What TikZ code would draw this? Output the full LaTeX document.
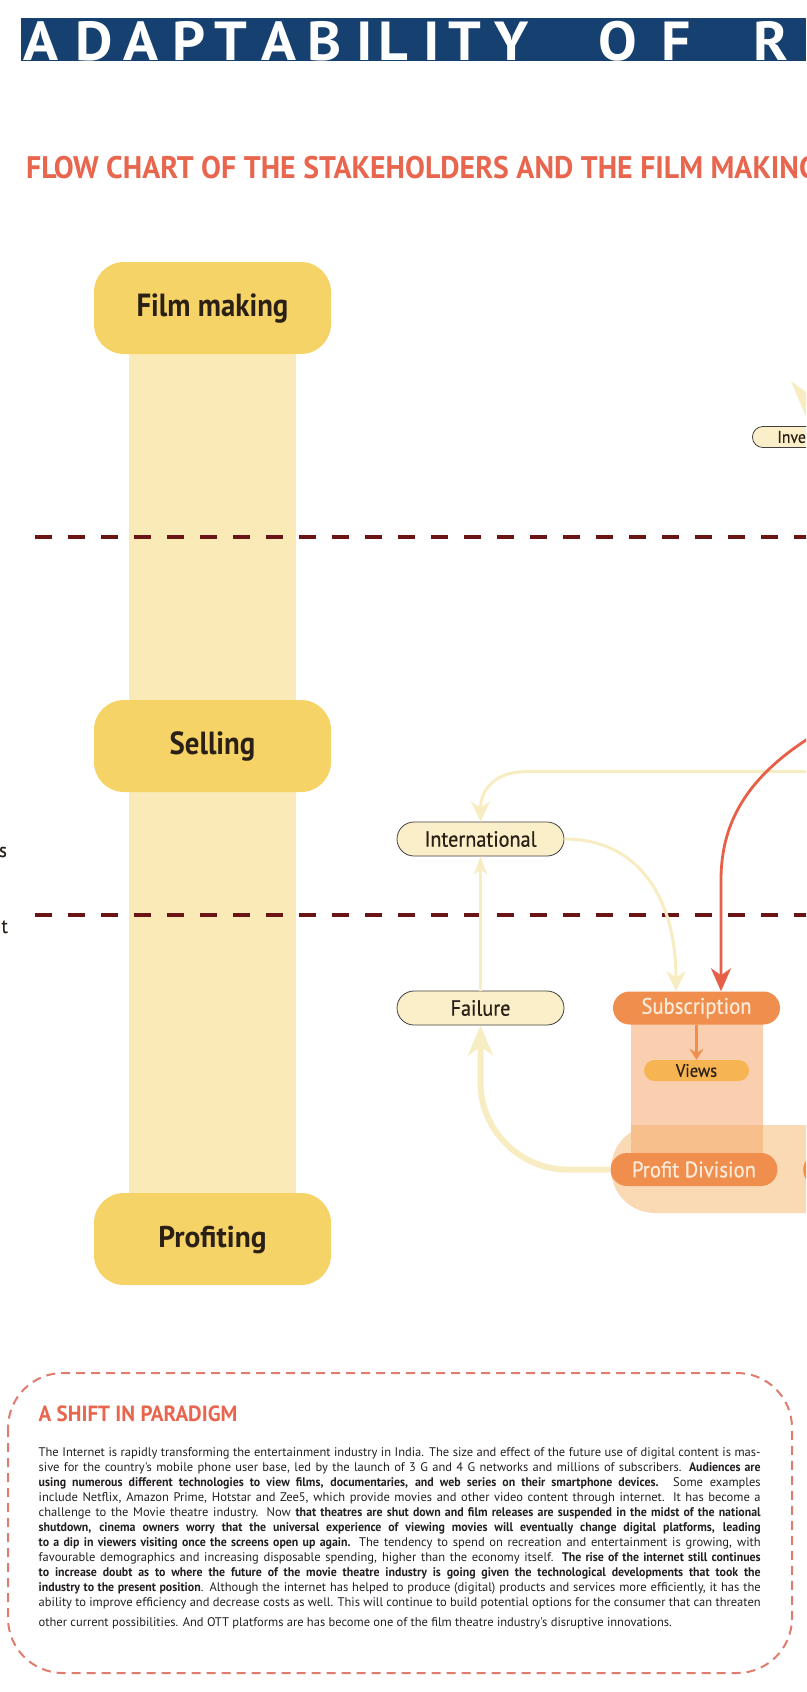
\documentclass[tikz,border=0pt]{standalone}
\usepackage{fontspec}
\setmainfont{PT Sans}
\newfontfamily\dinN[FakeStretch=0.9]{PT Sans}
\newfontfamily\dinM[FakeStretch=0.92, FakeBold=0.6]{PT Sans}
\newfontfamily\dinS[FakeStretch=0.955]{PT Sans}
\newfontfamily\dinP[FakeStretch=1.0, BoldFeatures={FakeStretch=0.95}]{PT Sans}
\newfontfamily\dinW[FakeStretch=1.05]{PT Sans}
\newfontfamily\dinR[FakeStretch=0.98]{PT Sans}
\usetikzlibrary{arrows.meta}
\definecolor{titleblue}{HTML}{15406F}
\definecolor{subred}{HTML}{E8664E}
\definecolor{boxyellow}{HTML}{F6D366}
\definecolor{colyellow}{HTML}{FAEAB7}
\definecolor{maroon}{HTML}{6A1416}
\definecolor{darktext}{HTML}{2A2016}
\definecolor{paleyel}{HTML}{FBEFC9}
\definecolor{lineyel}{HTML}{F8ECC2}
\definecolor{redline}{HTML}{E85F48}
\definecolor{orangenode}{HTML}{F08E4D}
\definecolor{cream}{HTML}{FCEBD9}
\definecolor{viewsfill}{HTML}{F6B452}
\definecolor{colpeach}{HTML}{F9CFAF}
\definecolor{bandpeach}{HTML}{FADAB4}
\definecolor{overlap}{HTML}{F6BF8C}
\definecolor{boxdash}{HTML}{E07C6E}
\definecolor{paratext}{HTML}{231F20}
\newcommand{\pline}[1]{\hbox to 722pt{#1}}
\tikzset{
  titlechar/.style={anchor=base, inner sep=0, text=white, font=\dinW\bfseries\fontsize{55}{55}\selectfont},
  bigbox/.style={fill=boxyellow, rounded corners=30, minimum width=237, minimum height=92, inner sep=0, text height=22, text depth=6, text=darktext, font=\dinN\bfseries\fontsize{32}{32}\selectfont},
  divider/.style={draw=maroon, line width=4, dash pattern=on 16.5pt off 16.5pt},
  pillnode/.style={draw=black!75, line width=0.8, fill=paleyel, rounded corners=17, minimum width=167, minimum height=34, inner sep=0, text=darktext, font=\dinM\fontsize{22}{22}\selectfont},
  opill/.style={fill=orangenode, rounded corners=16.5, minimum width=167, minimum height=33, inner sep=0, text=cream, font=\dinM\fontsize{22.5}{22}\selectfont},
  vpill/.style={fill=viewsfill, rounded corners=10.5, minimum width=105, minimum height=21, inner sep=0, text=darktext, font=\dinM\fontsize{18}{18}\selectfont},
  thinyel/.style={draw=lineyel, line width=3, -{Stealth[length=20pt, width=19pt, inset=6pt]}},
  thickyel/.style={draw=lineyel, line width=6, -{Stealth[length=30pt, width=25pt, inset=9pt]}},
  redarrow/.style={draw=redline, line width=2.8, -{Stealth[length=23pt, width=20pt, inset=7pt]}},
  orarrow/.style={draw=orangenode, line width=2.2, -{Stealth[length=11pt, width=14pt, inset=4pt]}},
  paraline/.style={anchor=base west, inner sep=0, text=paratext, font=\dinP\fontsize{12.5}{15}\selectfont},
}
\begin{document}
\begin{tikzpicture}[x=1pt, y=-1pt]
\useasboundingbox (0,0) rectangle (806,1692);
\clip (0,0) rectangle (806,1692);
% title band
\fill[titleblue] (21,18) rectangle (806,61);
\foreach \x/\l [count=\i] in {41/A,94/D,141/A,189/P,231/T,279/A,325/B,365/I,393/L,432/I,465/T,512/Y,618/O,676/F,771/R}
  \node[titlechar] (t\i) at (\x,60) {\l};
% subtitle
\node[anchor=base west, inner sep=0, text=subred, font=\dinS\bfseries\fontsize{31.2}{31.2}\selectfont] (sub) at (26,178) {FLOW CHART OF THE STAKEHOLDERS AND THE FILM MAKING};
% left column
\fill[colyellow] (129,330) rectangle (296,1220);
\node[bigbox] (fm) at (212.5,308) {Film making};
\node[bigbox] (sell) at (212.5,746) {Selling};
\node[bigbox, font=\dinR\bfseries\fontsize{30}{30}\selectfont] (prof) at (212.5,1239) {Profiting};
% dividers
\draw[divider] (35,537) -- (840,537);
\draw[divider] (35,915) -- (840,915);
% left edge text fragments
\node[anchor=base east, inner sep=0, text=darktext, font=\dinM\fontsize{20}{20}\selectfont] (ls) at (7,857) {s};
\node[anchor=base east, inner sep=0, text=darktext, font=\dinM\fontsize{20}{20}\selectfont] (lt) at (8,933) {t};
% orange band and column
\fill[bandpeach, rounded corners=44] (611,1125) rectangle (950,1213);
\fill[colpeach] (631,1008) rectangle (763,1125);
\fill[overlap] (631,1125) rectangle (763,1160);
% nodes
\node[pillnode, minimum height=21, rounded corners=10.5, anchor=west, text width=140, align=left, inner xsep=25, font=\dinM\fontsize{17}{17}\selectfont] (inv) at (752,437) {Inve};
\node[pillnode] (intl) at (480.5,839) {International};
\node[pillnode] (fail) at (480.5,1008) {Failure};
\node[opill] (subs) at (696.5,1008) {Subscription};
\node[vpill] (views) at (696.5,1070.5) {Views};
\node[opill] (pd) at (694,1169.5) {Profit Division};
\node[opill, anchor=west, minimum width=60] (nxt) at (803,1170) {};
% connectors
\coordinate (istart) at (812,250);
\coordinate (tstart) at (850,771.7);
\coordinate (rstart) at (850,715);
\draw[draw=lineyel, line width=8, -{Stealth[length=44pt, width=38pt, inset=13pt]}] (istart) -- ([xshift=58]inv.north west);
\draw[thinyel] (tstart) -- (525,771.7) .. controls (495,771.7) and (480.5,790) .. (intl.north);
\draw[thinyel, -{Stealth[length=18pt, width=13pt, inset=5pt]}] (fail.north) -- (intl.south);
\draw[thinyel] (intl.east) .. controls (640,839) and (676,900) .. ([xshift=-20.5]subs.north);
\draw[redarrow] (rstart) .. controls (760,760) and (721,810) .. (721,880) -- ([xshift=24.5]subs.north);
\draw[orarrow] (subs.south) -- (views.north);
\draw[thickyel] (pd.west) -- (567,1169.5) .. controls (520,1169.5) and (480.5,1130) .. (480.5,1083) -- (fail.south);
% bottom text box
\draw[boxdash, line width=2, dash pattern=on 9pt off 6pt, rounded corners=55] (8,1373) rectangle (792,1673);
\node[anchor=base west, inner sep=0, text=subred, font=\dinS\bfseries\fontsize{22}{22}\selectfont] (head) at (38.5,1421) {A SHIFT IN PARADIGM};
\node[paraline] (p1) at (38.5,1456) {\pline{The Internet is rapidly transforming the entertainment industry in India. The size and effect of the future use of digital content is mas-}};
\node[paraline] (p2) at (38.5,1471) {\pline{sive for the country's mobile phone user base, led by the launch of 3 G and 4 G networks and millions of subscribers. \textbf{Audiences are}}};
\node[paraline] (p3) at (38.5,1486) {\pline{\textbf{using numerous different technologies to view films, documentaries, and web series on their smartphone devices.} Some examples}};
\node[paraline] (p4) at (38.5,1501) {\pline{include Netflix, Amazon Prime, Hotstar and Zee5, which provide movies and other video content through internet. It has become a}};
\node[paraline] (p5) at (38.5,1516) {\pline{challenge to the Movie theatre industry. Now \textbf{that theatres are shut down and film releases are suspended in the midst of the national}}};
\node[paraline] (p6) at (38.5,1531) {\pline{\textbf{shutdown, cinema owners worry that the universal experience of viewing movies will eventually change digital platforms, leading}}};
\node[paraline] (p7) at (38.5,1546) {\pline{\textbf{to a dip in viewers visiting once the screens open up again.} The tendency to spend on recreation and entertainment is growing, with}};
\node[paraline] (p8) at (38.5,1561) {\pline{favourable demographics and increasing disposable spending, higher than the economy itself. \textbf{The rise of the internet still continues}}};
\node[paraline] (p9) at (38.5,1576) {\pline{\textbf{to increase doubt as to where the future of the movie theatre industry is going given the technological developments that took the}}};
\node[paraline] (p10) at (38.5,1591) {\pline{\textbf{industry to the present position}. Although the internet has helped to produce (digital) products and services more efficiently, it has the}};
\node[paraline] (p11) at (38.5,1606) {\pline{ability to improve efficiency and decrease costs as well. This will continue to build potential options for the consumer that can threaten}};
\node[paraline] (p12) at (38.5,1626) {other current possibilities. And OTT platforms are has become one of the film theatre industry's disruptive innovations.};
\end{tikzpicture}
\end{document}
